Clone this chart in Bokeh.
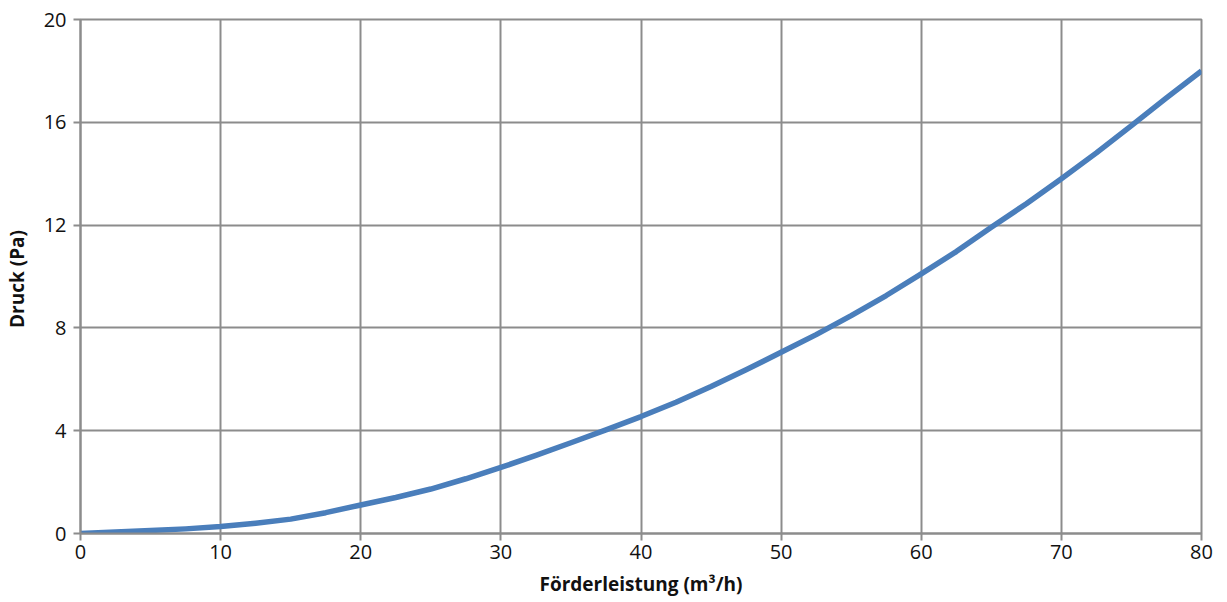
from bokeh.plotting import figure
from bokeh.models import Range1d, FixedTicker
from bokeh.embed import file_html
from bokeh.resources import INLINE

flow = [0, 5, 7.5, 10, 12.5, 15, 17.5, 20, 22.5, 25, 27.5, 30, 32.5, 35, 37.5, 40, 42.5, 45,
        47.5, 50, 52.5, 55, 57.5, 60, 62.5, 65, 67.5, 70, 72.5, 75, 77.5, 80]
pressure = [0.0, 0.12, 0.18, 0.27, 0.40, 0.56, 0.81, 1.11, 1.40, 1.73, 2.13, 2.57, 3.04, 3.53,
            4.03, 4.55, 5.11, 5.72, 6.37, 7.05, 7.74, 8.48, 9.26, 10.1, 10.97, 11.92, 12.83,
            13.8, 14.81, 15.87, 16.95, 18.0]
x_ticks = [0, 10, 20, 30, 40, 50, 60, 70, 80]
y_ticks = [0, 4, 8, 12, 16, 20]

FONT = "Open Sans"
GRID = "#8c8c8c"

p = figure(width=1219, height=600, output_backend="svg", toolbar_location=None,
           x_range=Range1d(0, 80), y_range=Range1d(0, 20),
           min_border_left=80, min_border_right=18, min_border_top=19, min_border_bottom=67)

p.line(flow, pressure, line_color="#4a7ebb", line_width=5.5, line_join="round")

for ax in (p.xaxis[0], p.yaxis[0]):
    ax.axis_line_color = GRID
    ax.axis_line_width = 2
    ax.major_tick_line_color = GRID
    ax.major_tick_line_width = 2
    ax.major_tick_out = 7
    ax.major_tick_in = 0
    ax.minor_tick_line_color = None
    ax.major_label_text_font = FONT
    ax.major_label_text_font_size = "20px"
    ax.major_label_text_color = "#111111"
    ax.axis_label_text_font = FONT
    ax.axis_label_text_font_size = "19px"
    ax.axis_label_text_font_style = "bold"
    ax.axis_label_text_color = "#111111"

p.xaxis[0].ticker = FixedTicker(ticks=x_ticks)
p.yaxis[0].ticker = FixedTicker(ticks=y_ticks)
p.xaxis[0].axis_label = "Förderleistung (m³/h)"
p.yaxis[0].axis_label = "Druck  (Pa)"
p.xaxis[0].major_label_standoff = 4
p.yaxis[0].major_label_standoff = 7
p.xaxis[0].axis_label_standoff = 9
p.yaxis[0].axis_label_standoff = 11

p.xgrid.grid_line_color = GRID
p.ygrid.grid_line_color = GRID
p.xgrid.grid_line_width = 2
p.ygrid.grid_line_width = 2
p.outline_line_color = GRID
p.outline_line_width = 2
p.background_fill_color = "white"
p.border_fill_color = "white"

open("out.html", "w").write(file_html(p, INLINE))
